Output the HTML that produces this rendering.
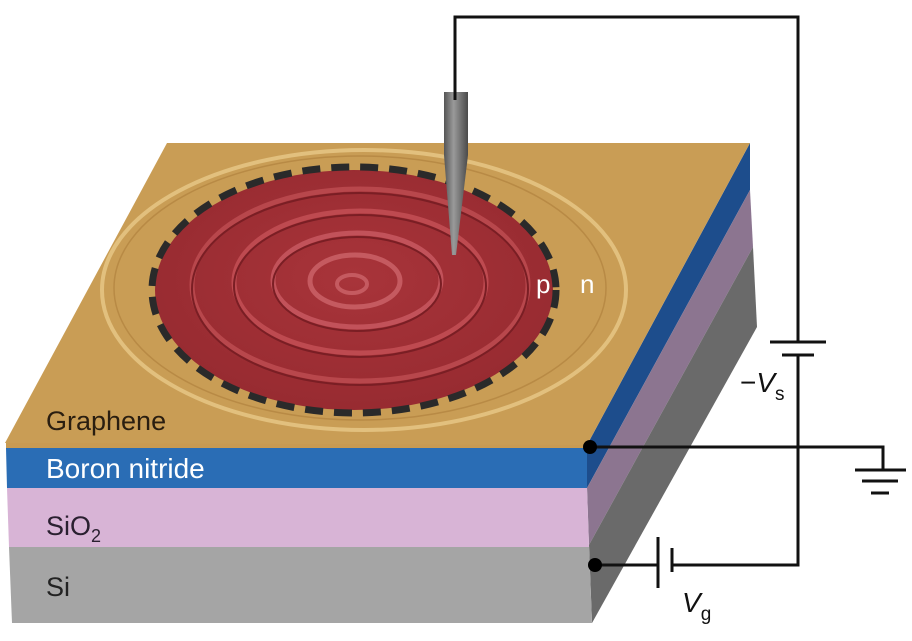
<!DOCTYPE html>
<html><head><meta charset="utf-8"><style>
html,body{margin:0;padding:0;background:#fff}
svg{display:block}
text{font-family:"Liberation Sans",sans-serif}
</style></head><body>
<svg width="912" height="641" viewBox="0 0 912 641" xmlns="http://www.w3.org/2000/svg">
<defs>
<radialGradient id="red" cx="0.5" cy="0.45" r="0.6">
<stop offset="0" stop-color="#a8343a"/><stop offset="1" stop-color="#962a30"/>
</radialGradient>
<linearGradient id="tip" x1="0" x2="1">
<stop offset="0" stop-color="#555"/><stop offset="0.4" stop-color="#9a9a9a"/><stop offset="1" stop-color="#4a4a4a"/>
</linearGradient>
</defs>
<polygon points="587,445 750,143 750,190 587,488" fill="#1d4d8c"/>
<polygon points="587,488 750,190 753,247 589,545" fill="#8c7590"/>
<polygon points="589,545 753,247 757,327 592,623" fill="#6a6a6a"/>
<rect x="6" y="443" width="582" height="6" fill="#c89a52"/>
<polygon points="6,448 587,448 587,488 7,488" fill="#2a6db5"/>
<polygon points="7,488 587,488 589,547 9,547" fill="#d8b4d6"/>
<polygon points="9,547 589,547 592,623 12,623" fill="#a5a5a5"/>
<polygon points="167,143 750,143 587,445 5,443" fill="#c99d55"/>
<ellipse cx="364" cy="290" rx="262" ry="140" fill="none" stroke="#e2c07e" stroke-width="4"/>
<ellipse cx="360" cy="288" rx="246" ry="132" fill="none" stroke="#b88a45" stroke-width="1.5"/>
<ellipse cx="354" cy="290" rx="199" ry="120" fill="url(#red)"/>
<ellipse cx="354" cy="290" rx="202" ry="123" fill="none" stroke="#2a2a2a" stroke-width="7" stroke-dasharray="18,11"/>
<g fill="none" stroke-width="5">
<ellipse cx="360" cy="285" rx="168" ry="96" stroke="#b8474c"/>
<ellipse cx="360" cy="285" rx="168" ry="96" stroke="#7a1e24" stroke-width="2" transform="translate(0,4)"/>
<ellipse cx="360" cy="282" rx="126" ry="71" stroke="#be4a50"/>
<ellipse cx="360" cy="282" rx="126" ry="71" stroke="#7a1e24" stroke-width="2" transform="translate(0,4)"/>
<ellipse cx="357" cy="280" rx="84" ry="47" stroke="#c2525a"/>
<ellipse cx="357" cy="280" rx="84" ry="47" stroke="#7a1e24" stroke-width="2" transform="translate(0,4)"/>
<ellipse cx="355" cy="281" rx="45" ry="26" stroke="#c55a60"/>
<ellipse cx="352" cy="284" rx="15" ry="9" stroke="#c55a60" stroke-width="4"/>
</g>
<text x="536" y="293" fill="#fff" font-size="26">p</text>
<text x="580" y="293" fill="#fff" font-size="26">n</text>
<polygon points="444,92 468,92 468,155 456,255 452,255 444,155" fill="url(#tip)"/>
<g stroke="#111" stroke-width="3" fill="none">
<polyline points="455,100 455,17 798,17 798,342"/>
<line x1="770" y1="342" x2="826" y2="342"/>
<line x1="782" y1="355" x2="814" y2="355"/>
<polyline points="798,355 798,565 672,565"/>
<line x1="672" y1="548" x2="672" y2="572"/>
<line x1="658" y1="537" x2="658" y2="588"/>
<line x1="658" y1="565" x2="594" y2="565"/>
<polyline points="590,447 883,447 883,470"/>
<line x1="855" y1="470" x2="906" y2="470"/>
<line x1="862" y1="481" x2="898" y2="481"/>
<line x1="871" y1="493" x2="889" y2="493"/>
</g>
<circle cx="590" cy="447" r="7" fill="#000"/>
<circle cx="595" cy="565" r="7" fill="#000"/>
<text x="740" y="392" font-size="28" fill="#111">−<tspan font-style="italic">V</tspan><tspan font-size="19" dy="8">s</tspan></text>
<text x="682" y="612" font-size="28" fill="#111" font-style="italic">V<tspan font-style="normal" font-size="19" dy="8">g</tspan></text>
<text x="46" y="430" font-size="27" fill="#2a1e10">Graphene</text>
<text x="46" y="478" font-size="28" fill="#fff">Boron nitride</text>
<text x="46" y="535" font-size="27" fill="#2a2030">SiO<tspan font-size="18" dy="7">2</tspan></text>
<text x="46" y="596" font-size="27" fill="#222">Si</text>
</svg>
</body></html>
